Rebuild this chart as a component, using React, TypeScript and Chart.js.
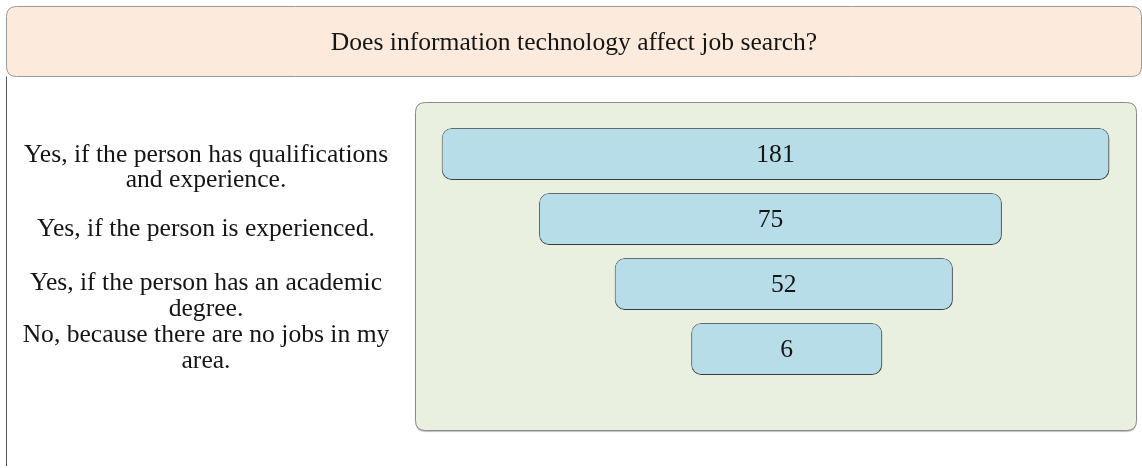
import React, { useEffect, useRef } from "react";
import { Chart, registerables } from "chart.js";

Chart.register(...registerables);

const title = "Does information technology affect job search?";
const categories: string[][] = [
  ["Yes, if the person has qualifications", "and experience."],
  ["Yes, if the person is experienced."],
  ["Yes, if the person has an academic", "degree."],
  ["No, because there are no jobs in my", "area."],
];
const values = [181, 75, 52, 6];
// funnel segment extents, in % of the panel width
const barStart = [3.7, 17.2, 27.7, 38.3];
const barEnd = [96.3, 81.4, 74.6, 64.8];

const FONT = "25.6px 'Liberation Serif', 'Times New Roman', serif";
// first-line baseline offsets of the left labels relative to their bar centre
const labelOffsets = [7.5, 17, 6, -7];

function roundRect(ctx: CanvasRenderingContext2D, x: number, y: number, w: number, h: number, r: number) {
  ctx.beginPath();
  ctx.moveTo(x + r, y);
  ctx.lineTo(x + w - r, y);
  ctx.quadraticCurveTo(x + w, y, x + w, y + r);
  ctx.lineTo(x + w, y + h - r);
  ctx.quadraticCurveTo(x + w, y + h, x + w - r, y + h);
  ctx.lineTo(x + r, y + h);
  ctx.quadraticCurveTo(x, y + h, x, y + h - r);
  ctx.lineTo(x, y + r);
  ctx.quadraticCurveTo(x, y, x + r, y);
  ctx.closePath();
}

const decorPlugin = {
  id: "decor",
  beforeDraw(chart: any) {
    const ctx: CanvasRenderingContext2D = chart.ctx;
    const a = chart.chartArea;
    ctx.save();
    // title box
    roundRect(ctx, 6.5, 6.5, 1135, 70, 10);
    ctx.fillStyle = "#fcebdd";
    ctx.fill();
    ctx.strokeStyle = "#9a9a9a";
    ctx.lineWidth = 1;
    ctx.stroke();
    // left border line
    ctx.beginPath();
    ctx.moveTo(6.5, 76.5);
    ctx.lineTo(6.5, 466);
    ctx.strokeStyle = "#555";
    ctx.stroke();
    // title text
    ctx.fillStyle = "#151515";
    ctx.font = FONT;
    ctx.textAlign = "center";
    ctx.textBaseline = "alphabetic";
    ctx.fillText(title, 574, 50);
    // panel
    ctx.shadowColor = "rgba(0,0,0,0.25)";
    ctx.shadowOffsetY = 1.5;
    ctx.shadowBlur = 1;
    roundRect(ctx, a.left + 0.5, a.top - 19, a.right - a.left, a.bottom - a.top + 68, 10);
    ctx.fillStyle = "#e9f0df";
    ctx.fill();
    ctx.shadowColor = "transparent";
    ctx.strokeStyle = "#8a8a8a";
    ctx.stroke();
    // category labels
    const meta = chart.getDatasetMeta(0);
    ctx.fillStyle = "#151515";
    categories.forEach((lines, i) => {
      const y0 = meta.data[i].y + labelOffsets[i];
      lines.forEach((t, j) => ctx.fillText(t, 206, y0 + j * 25.5));
    });
    ctx.restore();
  },
  beforeDatasetsDraw(chart: any) {
    const ctx = chart.ctx;
    ctx.save();
    ctx.shadowColor = "rgba(0,0,0,0.45)";
    ctx.shadowOffsetY = 1.5;
    ctx.shadowOffsetX = 0.5;
    ctx.shadowBlur = 1;
  },
  afterDatasetsDraw(chart: any) {
    const ctx: CanvasRenderingContext2D = chart.ctx;
    ctx.restore();
    ctx.save();
    const meta = chart.getDatasetMeta(0);
    ctx.fillStyle = "#151515";
    ctx.font = FONT;
    ctx.textAlign = "center";
    ctx.textBaseline = "alphabetic";
    meta.data.forEach((el: any, i: number) => {
      ctx.fillText(String(values[i]), (el.x + el.base) / 2, el.y + 8);
    });
    ctx.restore();
  },
};

export default function App() {
  const ref = useRef<HTMLCanvasElement>(null);
  useEffect(() => {
    if (!ref.current) return;
    const chart = new Chart(ref.current, {
      type: "bar",
      data: {
        labels: categories.map((c) => c.join(" ")),
        datasets: [
          {
            data: barStart.map((s, i) => [s, barEnd[i]]),
            backgroundColor: "#b7dde8",
            borderColor: "#5f6b70",
            borderWidth: 1,
            borderRadius: 10,
            borderSkipped: false,
            barPercentage: 0.8,
            categoryPercentage: 1,
          },
        ],
      },
      options: {
        indexAxis: "y",
        responsive: false,
        animation: false,
        events: [],
        layout: { padding: { left: 415, right: 6, top: 121.5, bottom: 86.5 } },
        plugins: { legend: { display: false }, title: { display: false }, tooltip: { enabled: false } },
        scales: {
          x: { type: "linear", min: 0, max: 100, display: false },
          y: { type: "category", display: false },
        },
      },
      plugins: [decorPlugin],
    } as any);
    return () => chart.destroy();
  }, []);
  return (
    <div style={{ position: "fixed", left: 0, top: 0, width: 1142, height: 468, background: "#fff" }}>
      <canvas ref={ref} width={1142} height={468} style={{ display: "block" }} />
    </div>
  );
}
